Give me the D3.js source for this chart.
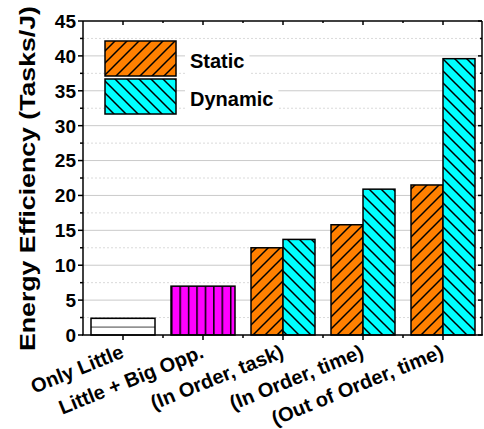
<!DOCTYPE html>
<html><head><meta charset="utf-8">
<script src="https://cdn.jsdelivr.net/npm/d3@7"></script>
<style>
body{margin:0;background:#fff;}
svg{display:block;}
text{font-family:"Liberation Sans",Arial,sans-serif;font-weight:bold;fill:#000;}
</style></head>
<body>
<svg id="chart" width="484" height="429"></svg>
<script>
const categories = ["Only Little","Little + Big Opp.","(In Order, task)","(In Order, time)","(Out of Order, time)"];
const baselineValues = [2.4, 7.0, null, null, null];
const staticValues = [null, null, 12.5, 15.8, 21.5];
const dynamicValues = [null, null, 13.7, 20.9, 39.6];
const seriesNames = ["Static","Dynamic"];
const yTicks = [0,5,10,15,20,25,30,35,40,45];
const yTitle = "Energy Efficiency (Tasks/J)";

const svg = d3.select("#chart");
const L = 83, R = 482, T = 21, B = 335;
const x = d3.scaleBand().domain(categories).range([L, 483]).paddingInner(0.2).paddingOuter(0.1);
const xs = d3.scaleBand().domain(seriesNames).range([0, x.bandwidth()]);
const y = d3.scaleLinear().domain([0,45]).range([B, T]);

const defs = svg.append("defs");
function diag(id, color, dir){
  const p = defs.append("pattern").attr("id", id).attr("patternUnits","userSpaceOnUse")
    .attr("width",12).attr("height",12);
  p.append("rect").attr("width",12).attr("height",12).attr("fill",color);
  const d = dir === "/" ? "M0,12 L12,0 M-3,3 L3,-3 M9,15 L15,9" : "M0,0 L12,12 M-3,9 L3,15 M9,-3 L15,3";
  p.append("path").attr("d", d).attr("stroke","#000").attr("stroke-width",1.5);
}
diag("pStatic", "#FF8000", "/");
diag("pDynamic", "#00FFFF", "\\");
const b1x = x(categories[1]);
const pv = defs.append("pattern").attr("id","pVert").attr("patternUnits","userSpaceOnUse")
  .attr("x", b1x).attr("y",0).attr("width", x.bandwidth()/7.6).attr("height", 10);
pv.append("rect").attr("width", x.bandwidth()/7.6).attr("height",10).attr("fill","#FF00FF");
pv.append("line").attr("x1",0.75).attr("x2",0.75).attr("y1",0).attr("y2",10).attr("stroke","#000").attr("stroke-width",1.5);
const ph = defs.append("pattern").attr("id","pHoriz").attr("patternUnits","userSpaceOnUse")
  .attr("x",0).attr("y", B).attr("width",10).attr("height",8.4);
ph.append("rect").attr("width",10).attr("height",8.4).attr("fill","#fff");
ph.append("line").attr("x1",0).attr("x2",10).attr("y1",0).attr("y2",0).attr("stroke","#000").attr("stroke-width",1.5);

// gridlines
const minor = d3.range(2.5, 45, 5);
svg.append("g").selectAll("line").data(minor).join("line")
  .attr("x1",L).attr("x2",R).attr("y1",d=>y(d)).attr("y2",d=>y(d))
  .attr("stroke","#dadada").attr("stroke-width",1).attr("stroke-dasharray","2,2");
svg.append("g").selectAll("line").data(yTicks.filter(d=>d>0 && d<45)).join("line")
  .attr("x1",L).attr("x2",R).attr("y1",d=>y(d)).attr("y2",d=>y(d))
  .attr("stroke","#cacaca").attr("stroke-width",1);

// bars
const patterns = ["url(#pHoriz)","url(#pVert)"];
svg.append("g").selectAll("rect").data(baselineValues.map((v,i)=>({v,i})).filter(d=>d.v!=null)).join("rect")
  .attr("x", d=>x(categories[d.i])).attr("width", x.bandwidth())
  .attr("y", d=>y(d.v)).attr("height", d=>B - y(d.v))
  .attr("fill", d=>patterns[d.i]).attr("stroke","#000").attr("stroke-width",1.5);
const series = [{name:"Static", vals:staticValues, fill:"url(#pStatic)"},{name:"Dynamic", vals:dynamicValues, fill:"url(#pDynamic)"}];
series.forEach(s=>{
  svg.append("g").selectAll("rect").data(s.vals.map((v,i)=>({v,i})).filter(d=>d.v!=null)).join("rect")
    .attr("x", d=>x(categories[d.i]) + xs(s.name)).attr("width", xs.bandwidth())
    .attr("y", d=>y(d.v)).attr("height", d=>B - y(d.v))
    .attr("fill", s.fill).attr("stroke","#000").attr("stroke-width",1.5);
});

// axes
const ax = svg.append("g").attr("stroke","#000").attr("stroke-width",1.5);
ax.append("line").attr("x1",L).attr("x2",L).attr("y1",T).attr("y2",B);
ax.append("line").attr("x1",R).attr("x2",R).attr("y1",T).attr("y2",B);
ax.append("line").attr("x1",L).attr("x2",R).attr("y1",T).attr("y2",T);
ax.append("line").attr("x1",L-1).attr("x2",R+1).attr("y1",B).attr("y2",B);
ax.selectAll(".ym").data(yTicks).join("line").attr("x1",L-5).attr("x2",L).attr("y1",d=>y(d)).attr("y2",d=>y(d));
ax.selectAll(".yn").data(minor).join("line").attr("x1",L-3).attr("x2",L).attr("y1",d=>y(d)).attr("y2",d=>y(d));
ax.selectAll(".yr").data(yTicks).join("line").attr("x1",R-4).attr("x2",R).attr("y1",d=>y(d)).attr("y2",d=>y(d));
ax.selectAll(".yrn").data(minor).join("line").attr("x1",R-2).attr("x2",R).attr("y1",d=>y(d)).attr("y2",d=>y(d));
const centers = categories.map(c=>x(c)+x.bandwidth()/2);
const bounds = categories.map(c=>x(c)+x.bandwidth()/2 + x.step()/2).slice(0,4);
ax.selectAll(".xm").data(centers).join("line").attr("x1",d=>d).attr("x2",d=>d).attr("y1",B).attr("y2",B+5);
ax.selectAll(".xn").data(bounds).join("line").attr("x1",d=>d).attr("x2",d=>d).attr("y1",B).attr("y2",B+3);
ax.selectAll(".xt").data(centers).join("line").attr("x1",d=>d).attr("x2",d=>d).attr("y1",T).attr("y2",T+4);
ax.selectAll(".xtn").data(bounds).join("line").attr("x1",d=>d).attr("x2",d=>d).attr("y1",T).attr("y2",T+2);

// y tick labels
svg.append("g").selectAll("text").data(yTicks).join("text")
  .attr("x", L-7).attr("y", d=>y(d)).attr("dy","0.36em").attr("text-anchor","end")
  .attr("font-size",19).text(d=>d);

// x labels
svg.append("g").selectAll("text").data(categories).join("text")
  .attr("transform",(d,i)=>`translate(${centers[i]+2},${B+22}) rotate(-22)`)
  .attr("text-anchor","end").attr("font-size",20).text(d=>d);

// y title
svg.append("text").attr("transform",`translate(35,${(5+352)/2}) rotate(-90)`)
  .attr("text-anchor","middle").attr("font-size",22)
  .attr("textLength",345).attr("lengthAdjust","spacingAndGlyphs").text(yTitle);

// legend
const lg = svg.append("g");
series.forEach((s,i)=>{
  const yy = 41 + i*38;
  lg.append("rect").attr("x",105).attr("y",yy).attr("width",71).attr("height",35)
    .attr("fill",s.fill).attr("stroke","#000").attr("stroke-width",1.5);
  const t = lg.append("text").attr("x",190).attr("y",yy+27).attr("font-size",20).text(s.name);
  const bb = t.node().getBBox();
  lg.insert("rect","text").attr("x",bb.x-5).attr("y",bb.y-2).attr("width",bb.width+10).attr("height",bb.height+4).attr("fill","#fff");
});
</script>
</body></html>
